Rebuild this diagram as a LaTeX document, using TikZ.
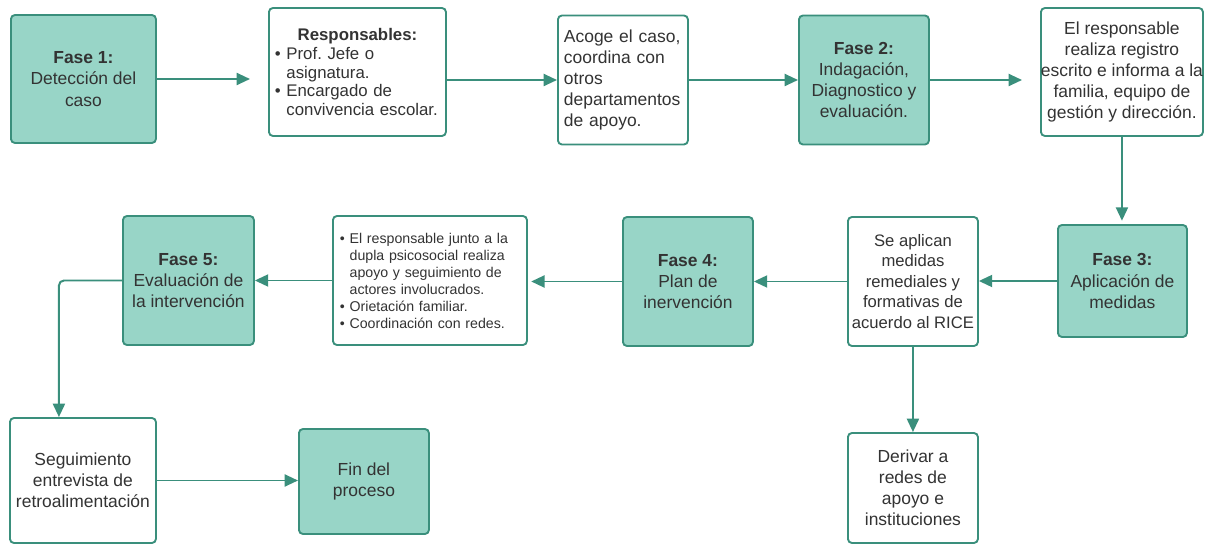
\documentclass[tikz,border=0pt]{standalone}
\usepackage{fontspec}
\setmainfont{Liberation Sans}
\usepackage{xcolor}
\usetikzlibrary{arrows.meta}

\definecolor{verdeborde}{RGB}{58,143,124}
\definecolor{verderelleno}{RGB}{152,213,199}
\definecolor{gristexto}{RGB}{51,51,51}

\frenchspacing

\begin{document}
\begin{tikzpicture}[
	fase/.style = {rectangle,
		draw = verdeborde,
		line width = 1.6pt,
		rounded corners = 0.12cm,
		fill = verderelleno,
		text = gristexto,
		anchor = west,
		align = center,
		minimum width = 3.9cm,
		minimum height = 3.87cm,
		font = \fontsize{14.9pt}{18pt}\selectfont},
	caja/.style = {fase, fill = white},
	flecha/.style = {draw = verdeborde, line width = 1.7pt,
		-{Triangle[length = 0.4cm, width = 0.36cm]}}
	]
	
	\useasboundingbox (0cm,0cm) rectangle (36.21cm,-16.35cm);
	
	% fila de arriba
	\node[fase, minimum width = 4.35cm, minimum height = 3.84cm] (fase1) at (0.30cm,-2.37cm)
	{\textbf{Fase 1:}\\Detección del\\caso};
	
	\node[caja, minimum width = 5.31cm, minimum height = 3.84cm, text width = 4.95cm,
	font = \fontsize{14.35pt}{16.2pt}\selectfont] (resp) at (8.04cm,-2.16cm)
	{\textbf{Responsables:}\\
		\begin{minipage}[t]{4.95cm}\raggedright
			\textbullet~Prof. Jefe o\\
			\hphantom{\textbullet~}asignatura.\\
			\textbullet~Encargado de\\
			\hphantom{\textbullet~}convivencia escolar.
	\end{minipage}};
	
	\node[caja, align = left, inner xsep = 0.18cm, text width = 3.54cm] (acoge) at (16.71cm,-2.40cm)
	{Acoge el caso,\\coordina con\\otros\\departamentos\\de apoyo.};
	
	\node[fase] (fase2) at (23.94cm,-2.40cm)
	{\textbf{Fase 2:}\\Indagación,\\Diagnostico y\\evaluación.};
	
	\node[caja, minimum width = 4.86cm, minimum height = 3.84cm, inner xsep = 0pt] (reg) at (31.20cm,-2.16cm)
	{El responsable\\realiza registro\\escrito e informa a la\\familia, equipo de\\gestión y dirección.};
	
	% fila del medio
	\node[fase, minimum width = 3.87cm, minimum height = 3.36cm] (fase3) at (31.71cm,-8.43cm)
	{\textbf{Fase 3:}\\Aplicación de\\medidas};
	
	\node[caja, inner xsep = 0pt, font = \fontsize{14.2pt}{17.5pt}\selectfont] (medid) at (25.41cm,-8.445cm)
	{Se aplican\\medidas\\remediales y\\formativas de\\acuerdo al RICE};
	
	\node[fase] (fase4) at (18.66cm,-8.445cm)
	{\textbf{Fase 4:}\\Plan de\\inervención};
	
	\node[caja, minimum width = 5.82cm, align = left, text width = 5.4cm,
	font = \fontsize{12.1pt}{14.5pt}\selectfont] (apoyo) at (9.96cm,-8.415cm)
	{\textbullet~El responsable junto a la\\
		\hphantom{\textbullet~}dupla psicosocial realiza\\
		\hphantom{\textbullet~}apoyo y seguimiento de\\
		\hphantom{\textbullet~}actores involucrados.\\
		\textbullet~Orietación familiar.\\
		\textbullet~Coordinación con redes.};
	
	\node[fase, minimum width = 3.93cm] (fase5) at (3.66cm,-8.415cm)
	{\textbf{Fase 5:}\\Evaluación de\\la intervención};
	
	% fila de abajo
	\node[caja, minimum width = 4.38cm, minimum height = 3.75cm] (seguim) at (0.27cm,-14.415cm)
	{Seguimiento\\entrevista de\\retroalimentación};
	
	\node[fase, minimum height = 3.15cm] (fin) at (8.94cm,-14.445cm)
	{Fin del\\proceso};
	
	\node[caja, minimum height = 3.3cm] (deriv) at (25.41cm,-14.64cm)
	{Derivar a\\redes de\\apoyo e\\instituciones};
	
	% flechas
	\draw[flecha, shorten > = 0.54cm] (fase1.east) -- (fase1.east -| resp.west);
	\draw[flecha] (resp.east |- acoge.west) -- (acoge.west);
	\draw[flecha] (acoge.east) -- (fase2.west);
	\draw[flecha, shorten > = 0.54cm] (fase2.east) -- (fase2.east -| reg.west);
	\draw[flecha, shorten > = 0.1cm] (reg.south) -- (reg.south |- fase3.north);
	\draw[flecha] (fase3.west) -- (fase3.west -| medid.east);
	\draw[flecha] (medid.west) -- (medid.west -| fase4.east);
	\draw[flecha, shorten > = 0.1cm] (fase4.west) -- (fase4.west -| apoyo.east);
	\draw[flecha] (apoyo.west) -- (apoyo.west -| fase5.east);
	\draw[flecha, rounded corners = 0.15cm] (fase5.west) -| ([xshift = -0.72cm]seguim.north);
	\draw[flecha] (seguim.east) -- (seguim.east -| fin.west);
	\draw[flecha] (medid.south) -- (deriv.north);
	
\end{tikzpicture}
\end{document}
